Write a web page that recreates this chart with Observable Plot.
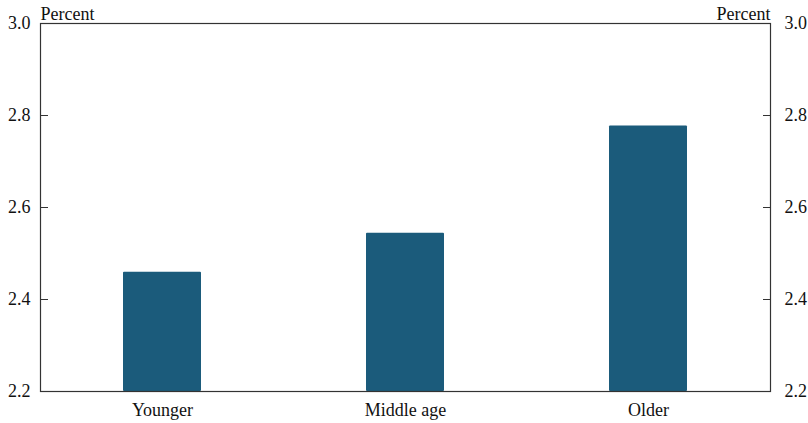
<!DOCTYPE html>
<html>
<head>
<meta charset="utf-8">
<script src="https://cdn.jsdelivr.net/npm/d3@7"></script>
<script src="https://cdn.jsdelivr.net/npm/@observablehq/plot@0.6"></script>
<style>
  body { margin: 0; background: #fff; }
  #chart svg { display: block; }
</style>
</head>
<body>
<div id="chart"></div>
<script>
const categories = ["Younger", "Middle age", "Older"];
const values = [2.459, 2.544, 2.777];
const yTicks = [2.2, 2.4, 2.6, 2.8, 3.0];
const unitLabel = "Percent";

const data = categories.map((c, i) => ({category: c, value: values[i]}));
const serif = "'Liberation Serif', 'DejaVu Serif', serif";

const chart = Plot.plot({
  width: 808,
  height: 423,
  marginLeft: 40,
  marginRight: 38,
  marginTop: 23,
  marginBottom: 32,
  style: {fontFamily: serif, fontSize: "18px", color: "#111", background: "#fff"},
  x: {domain: categories, paddingInner: 0.68, paddingOuter: 0.34, label: null},
  y: {domain: [2.2, 3.0], label: null},
  marks: [
    Plot.barY(data, {x: "category", y1: 2.2, y2: "value", fill: "#1b5b7b", rx: 1}),
    Plot.frame({stroke: "#333", strokeWidth: 1.2}),
    Plot.axisY({anchor: "left", ticks: yTicks, tickFormat: d3.format(".1f"), tickSize: -8, tickPadding: 18, label: null, stroke: "#333", fontSize: 18, fontFamily: serif}),
    Plot.axisY({anchor: "right", ticks: yTicks, tickFormat: d3.format(".1f"), tickSize: -8, tickPadding: 22, label: null, stroke: "#333", fontSize: 18, fontFamily: serif}),
    Plot.axisX({anchor: "bottom", tickSize: 0, tickPadding: 12, label: null, fontSize: 18, fontFamily: serif}),
    Plot.text([unitLabel], {frameAnchor: "top-left", textAnchor: "start", lineAnchor: "bottom", dy: -4, fontSize: 18, fontFamily: serif}),
    Plot.text([unitLabel], {frameAnchor: "top-right", textAnchor: "end", lineAnchor: "bottom", dy: -4, fontSize: 18, fontFamily: serif})
  ]
});
document.getElementById("chart").appendChild(chart);
</script>
</body>
</html>
